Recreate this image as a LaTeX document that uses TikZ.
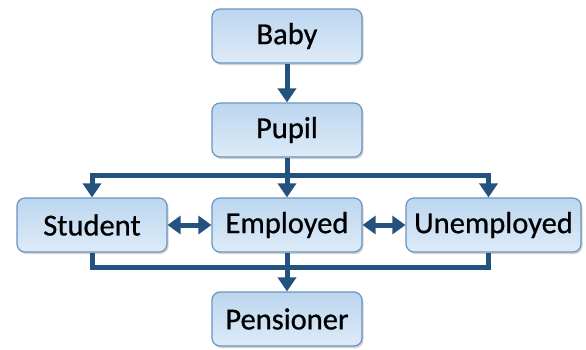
\documentclass[tikz,border=0pt]{standalone}
\usepackage{fontspec}
\setmainfont{Carlito}
\newfontfamily\stagefont{Carlito}[FakeBold=0.7]
\usetikzlibrary{arrows.meta,shadows,calc}
\definecolor{boxtop}{HTML}{BCD6EF}
\definecolor{boxbot}{HTML}{DDEBF8}
\definecolor{boxline}{HTML}{6A94BE}
\definecolor{flow}{HTML}{24527F}
\tikzset{
  stage/.style={rounded corners=8pt, minimum width=150pt, minimum height=54pt,
    top color=boxtop, bottom color=boxbot, draw=boxline, line width=1.2pt,
    drop shadow={opacity=0.35, shadow xshift=1.5pt, shadow yshift=-2pt},
    font=\stagefont\fontsize{30.5}{33}\selectfont, text=black, inner sep=0pt},
  flowline/.style={draw=flow, line width=5pt, line join=miter},
  flowarrow/.style={flowline, -{Triangle[width=18pt,length=14pt]}},
  swaparrow/.style={flowline, {Triangle[width=18pt,length=13pt]}-{Triangle[width=18pt,length=13pt]}}
}
\begin{document}
\begin{tikzpicture}[x=1pt,y=-1pt]
  \useasboundingbox (0,0) rectangle (586,349);
  % branching points of the flow
  \coordinate (split) at (287,175);
  \coordinate (merge) at (287,267);
  % stages of life
  \node[stage] (baby) at (287,36) {Baby};
  \node[stage] (pupil) at (287,130) {Pupil};
  \node[stage] (student) at (92,225) {Student};
  \node[stage] (employed) at (287,225) {Employed};
  \node[stage, minimum width=175pt] (unemployed) at (493.5,225) {Unemployed};
  \node[stage] (pensioner) at (287,319) {Pensioner};
  % transitions
  \draw[flowarrow] (baby.south) -- (pupil.north);
  \draw[flowarrow] (pupil.south) -- (employed.north);
  \draw[flowarrow] (split) -| (student.north);
  \draw[flowarrow] (split) -| ([xshift=-5pt]unemployed.north);
  \draw[flowline] (student.south) |- (merge);
  \draw[flowline] ([xshift=-5pt]unemployed.south) |- (merge);
  \draw[flowarrow] (employed.south) -- (pensioner.north);
  \draw[swaparrow] (student.east) -- (employed.west);
  \draw[swaparrow] (employed.east) -- (unemployed.west);
\end{tikzpicture}
\end{document}
